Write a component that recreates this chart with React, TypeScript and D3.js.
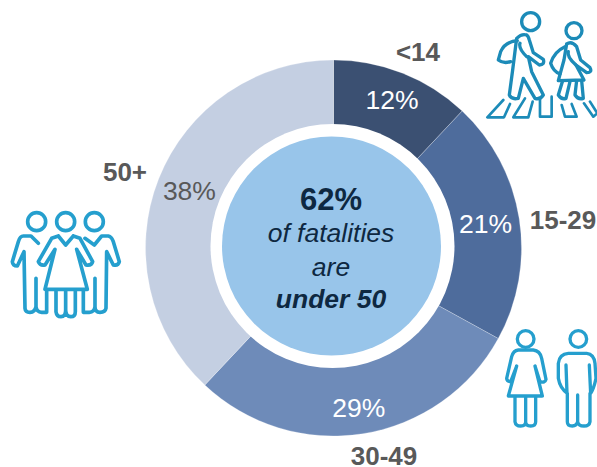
import React from "react";
import * as d3 from "d3";

const ageGroups = ["<14", "15-29", "30-49", "50+"];
const shares = [12, 21, 29, 38];
const sliceColors = ["#3b5072", "#4e6c9c", "#6e8bb9", "#c4cfe2"];
const shareColors = ["#ffffff", "#ffffff", "#ffffff", "#595959"];
const centerLines = ["62%", "of fatalities", "are", "under 50"];

const W = 597;
const H = 467;
const cx = 333.5;
const cy = 248;
const outerR = 188;
const FONT = "'Liberation Sans', Arial, sans-serif";
const ICON_BLUE = "#259fce";
const WALKER_BLUE = "#1c8bb8";

// radius of the % label along each slice's mid-angle
const shareRadius = [159, 154, 162, 155];
const groupLabelPos = [
  { x: 418, y: 61 },
  { x: 563, y: 229 },
  { x: 384, y: 465 },
  { x: 125, y: 181 },
];

const pie = d3.pie<number>().value((d) => d).sort(null);
const arc = d3.arc<d3.PieArcDatum<number>>().innerRadius(0).outerRadius(outerR);

// Icons are traced at 3x, so each group is scaled back down by a third.
function GroupIcon() {
  const paths = [
    "M115 280 L93 258 L70 258 Q60 258 55 275 L37 335 Q38 348 52 348 L72 305 L75 475 Q76 487 90 487 Q105 487 108 470 V385 M108 470 Q110 487 125 487 L140 487 V420",
    "M175 258 L197 285 L220 258 M175 258 L155 265 L115 335 Q120 348 135 345 L165 298 L135 418 L262 418 L230 298 L258 345 Q275 348 278 335 L240 265 L220 258 M168 420 V485 Q170 500 183 500 Q197 500 197 480 V420 M197 480 Q198 500 212 500 Q226 500 226 485 V420",
    "M255 265 L283 285 L305 258 L325 258 Q335 260 340 275 L358 335 Q355 348 340 345 L320 305 L318 475 Q316 487 300 487 Q285 487 285 470 V385 M285 470 Q283 487 268 487 L250 487 V420",
  ];
  return (
    <g transform="translate(0,150) scale(0.3333)" fill="none" stroke={ICON_BLUE} strokeWidth={11} strokeLinejoin="round" strokeLinecap="round">
      {[110, 197, 283].map((x) => <circle key={x} cx={x} cy={215} r={27} />)}
      {paths.map((d, i) => <path key={i} d={d} />)}
    </g>
  );
}

function CoupleIcon() {
  const paths = [
    "M85 90 L130 90 Q150 92 155 115 L168 178 Q165 190 150 185 L135 138 L157 228 L55 228 L80 138 L62 185 Q50 185 50 175 L65 110 Q70 92 85 90 M75 228 V305 Q77 318 92 318 Q107 318 107 305 V228 M107 305 Q107 318 122 318 Q137 318 137 305 V228",
    "M235 100 L290 100 Q312 102 315 130 L318 175 Q312 205 302 220 L298 135 M300 220 V305 Q298 318 282 318 Q265 318 263 305 V225 M263 305 Q260 318 247 318 Q232 318 232 305 V220 Q210 205 205 175 L205 130 Q208 102 235 100 M228 135 L231 220",
  ];
  return (
    <g transform="translate(490,320) scale(0.3333)" fill="none" stroke={ICON_BLUE} strokeWidth={10} strokeLinejoin="round" strokeLinecap="round">
      <circle cx={107} cy={57} r={25} />
      <circle cx={265} cy={57} r={25} />
      {paths.map((d, i) => <path key={i} d={d} />)}
    </g>
  );
}

function WalkersIcon() {
  const paths = [
    "M440 105 Q425 100 410 115 L398 210 L388 285 Q395 300 415 295 L430 235 L465 295 Q480 300 490 285 L455 215 L445 170 L478 195 Q495 195 490 178 L460 158 L448 120 Q445 108 440 105",
    "M412 122 Q375 125 362 155 L355 180 Q370 192 392 185 M420 130 Q415 145 440 170",
    "M560 132 Q575 122 590 140 L602 180 L630 203 Q638 218 620 218 L588 195 L612 240 L535 242 L552 180 L560 132",
    "M555 140 Q522 155 512 190 Q520 215 540 222 M565 155 Q560 170 588 195",
    "M548 242 L535 285 Q545 300 558 295 L570 245 M590 242 L585 285 Q595 300 610 295 L605 242",
  ];
  const stripes = [
    "M370 300 L322 352 L372 352 L390 312",
    "M435 295 L400 352 L445 352 L458 305",
    "M480 295 V350 H515 V290",
    "M545 315 L555 350 L590 350 L575 312",
    "M612 310 L640 350 L652 340 L630 305",
  ];
  return (
    <g transform="translate(380,0) scale(0.3333)" fill="none" stroke={WALKER_BLUE} strokeWidth={10} strokeLinejoin="round" strokeLinecap="round">
      <circle cx={452} cy={65} r={27} />
      <circle cx={582} cy={92} r={24} />
      {paths.map((d, i) => <path key={i} d={d} />)}
      {stripes.map((d, i) => <path key={i} d={d} strokeWidth={8} />)}
    </g>
  );
}

export default function App() {
  const slices = pie(shares);
  return (
    <svg width={W} height={H} viewBox={`0 0 ${W} ${H}`} style={{ position: "absolute", left: 0, top: 0 }} fontFamily={FONT}>
      <rect width={W} height={H} fill="#ffffff" />
      <g transform={`translate(${cx},${cy})`}>
        {slices.map((s, i) => (
          <path key={ageGroups[i]} d={arc(s) ?? ""} fill={sliceColors[i]} stroke="#ffffff" strokeOpacity={0.35} strokeWidth={0.7} />
        ))}
        {slices.map((s, i) => {
          const mid = (s.startAngle + s.endAngle) / 2;
          const r = shareRadius[i];
          return (
            <text key={i} x={Math.sin(mid) * r} y={-Math.cos(mid) * r + 9} textAnchor="middle" fontSize={26.5} fill={shareColors[i]}>
              {`${shares[i]}%`}
            </text>
          );
        })}
      </g>
      {/* white ring and blue hub */}
      <circle cx={332.5} cy={246} r={122} fill="#ffffff" />
      <circle cx={331.5} cy={246} r={109.5} fill="#98c5ea" />
      <text x={331} y={210} textAnchor="middle" fontSize={31} fontWeight={700} fill="#0e2841">{centerLines[0]}</text>
      <text x={331} y={242} textAnchor="middle" fontSize={26.5} fontStyle="italic" fill="#0e2841">{centerLines[1]}</text>
      <text x={331} y={276} textAnchor="middle" fontSize={26.5} fontStyle="italic" fill="#0e2841">{centerLines[2]}</text>
      <text x={331} y={308} textAnchor="middle" fontSize={26.5} fontStyle="italic" fontWeight={700} fill="#0e2841">{centerLines[3]}</text>
      {ageGroups.map((g, i) => (
        <text key={g} x={groupLabelPos[i].x} y={groupLabelPos[i].y} textAnchor="middle" fontSize={26} fontWeight={700} fill="#595959">{g}</text>
      ))}
      <WalkersIcon />
      <GroupIcon />
      <CoupleIcon />
    </svg>
  );
}
